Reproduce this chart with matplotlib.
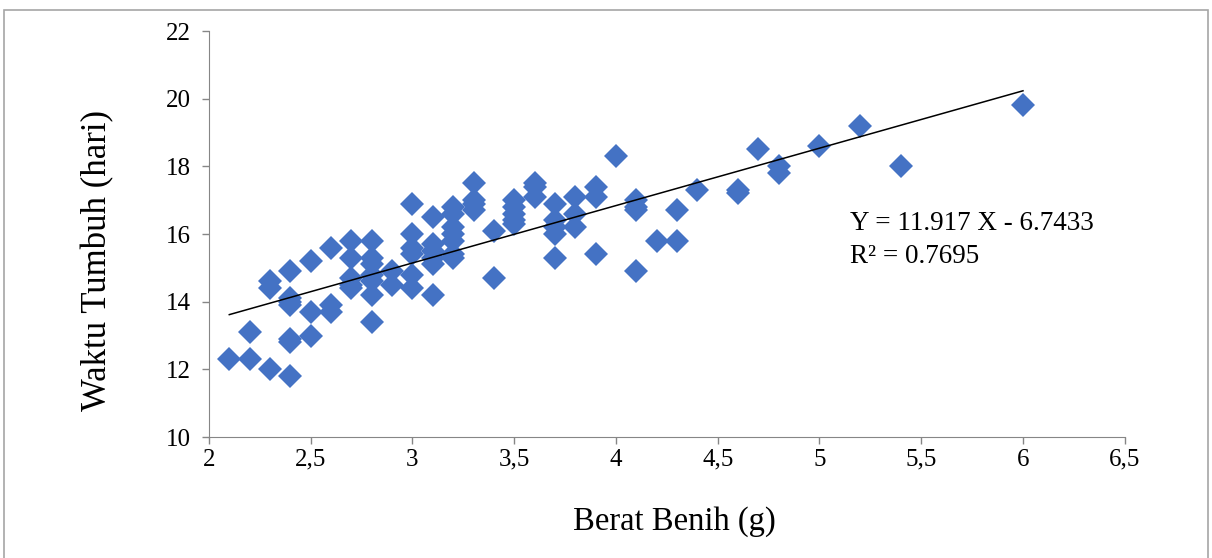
import numpy as np
import matplotlib.pyplot as plt
from matplotlib.patches import Rectangle

# seed weight (g) and growth time (days)
berat = [2.1,
         2.2, 2.2,
         2.3, 2.3, 2.3,
         2.4, 2.4, 2.4, 2.4, 2.4, 2.4, 2.4,
         2.5, 2.5, 2.5,
         2.6, 2.6, 2.6,
         2.7, 2.7, 2.7, 2.7, 2.7,
         2.8, 2.8, 2.8, 2.8, 2.8, 2.8, 2.8,
         2.9, 2.9,
         3.0, 3.0, 3.0, 3.0, 3.0, 3.0,
         3.1, 3.1, 3.1, 3.1, 3.1, 3.1,
         3.2, 3.2, 3.2, 3.2, 3.2, 3.2, 3.2,
         3.3, 3.3, 3.3, 3.3,
         3.4, 3.4,
         3.5, 3.5, 3.5, 3.5, 3.5,
         3.6, 3.6, 3.6,
         3.7, 3.7, 3.7, 3.7, 3.7,
         3.8, 3.8, 3.8,
         3.9, 3.9, 3.9,
         4.0,
         4.1, 4.1, 4.1, 4.1,
         4.2,
         4.3, 4.3,
         4.4,
         4.6, 4.6,
         4.7,
         4.8, 4.8,
         5.0, 5.2, 5.4, 6.0]
waktu = [12.3,
         13.1, 12.3,
         14.6, 14.4, 12.0,
         14.9, 14.1, 14.0, 13.9, 12.9, 12.8, 11.8,
         15.2, 13.7, 13.0,
         15.6, 13.9, 13.7,
         15.8, 15.3, 14.7, 14.5, 14.4,
         15.8, 15.3, 15.1, 14.8, 14.6, 14.2, 13.4,
         14.9, 14.5,
         16.9, 16.0, 15.6, 15.4, 14.8, 14.4,
         16.5, 15.7, 15.5, 15.3, 15.1, 14.2,
         16.8, 16.6, 16.2, 16.0, 15.8, 15.4, 15.3,
         17.5, 17.0, 16.9, 16.7,
         16.1, 14.7,
         17.0, 16.8, 16.6, 16.4, 16.3,
         17.5, 17.4, 17.1,
         16.9, 16.4, 16.2, 16.0, 15.3,
         17.1, 16.6, 16.2,
         17.4, 17.1, 15.4,
         18.3,
         17.0, 16.8, 16.7, 14.9,
         15.8,
         16.7, 15.8,
         17.3,
         17.3, 17.2,
         18.5,
         18.0, 17.8,
         18.6, 19.2, 18.0, 19.8]

x_ticks = [2, 2.5, 3, 3.5, 4, 4.5, 5, 5.5, 6, 6.5]
x_labels = ["2", "2,5", "3", "3,5", "4", "4,5", "5", "5,5", "6", "6,5"]
y_ticks = [10, 12, 14, 16, 18, 20, 22]

plt.rcParams["font.family"] = ["Liberation Serif", "DejaVu Serif"]

fig = plt.figure(figsize=(12.12, 5.58), dpi=100)
ax = fig.add_axes([0.1724, 0.2168, 0.7556, 0.7276])

ax.plot(berat, waktu, linestyle="none", marker="D", markersize=12,
        color="#4472C4", markeredgewidth=0)

# linear trendline
slope, intercept = np.polyfit(berat, waktu, 1)
xs = np.array([min(berat), max(berat)])
ax.plot(xs, slope * xs + intercept, color="black", linewidth=1.1)

ax.set_xlim(2, 6.5)
ax.set_ylim(10, 22)
ax.set_xticks(x_ticks)
ax.set_xticklabels(x_labels)
ax.set_yticks(y_ticks)
ax.tick_params(labelsize=18, color="#868686", length=5, width=1)
ax.tick_params(axis="y", pad=8)
for side in ["top", "right"]:
    ax.spines[side].set_visible(False)
for side in ["left", "bottom"]:
    ax.spines[side].set_color("#868686")

ax.set_xlabel("Berat Benih (g)", fontsize=23.5)
ax.set_ylabel("Waktu Tumbuh (hari)", fontsize=25)
ax.xaxis.set_label_coords(0.508, -0.17)
ax.yaxis.set_label_coords(-0.103, 0.436)

fig.text(0.701, 0.587, "Y = 11.917 X - 6.7433", fontsize=19.5)
fig.text(0.701, 0.529, "R² = 0.7695", fontsize=19.5)

fig.patches.append(Rectangle((0.003, -0.01), 0.994, 0.992, transform=fig.transFigure,
                             fill=False, edgecolor="#A6A6A6", linewidth=1.2))

fig.savefig("out.png", dpi=100)
